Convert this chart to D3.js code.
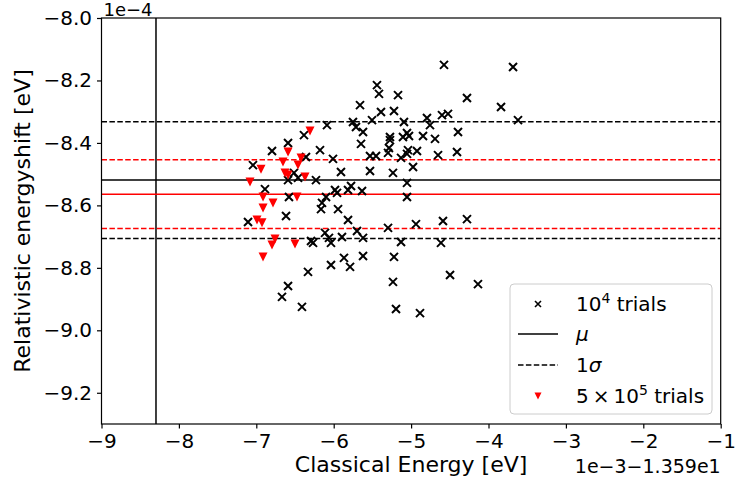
<!DOCTYPE html>
<html>
<head>
<meta charset="UTF-8">
<script src="https://d3js.org/d3.v7.min.js"></script>
<style>
  body { margin: 0; padding: 0; background: #fff; }
  svg { font-family: 'DejaVu Sans', sans-serif; }
</style>
</head>
<body>
<div id="chart"></div>
<script>
  // 10^4 trials (x: classical energy offset units 1e-3, y: shift units 1e-4)
  const trialsX = [-4.575, -3.683, -5.441, -5.415, -5.169, -4.278, -5.660, -3.838, -5.389, -5.221,
    -4.795, -4.601, -4.523, -3.619, -5.505, -5.751, -5.092, -4.756, -5.712, -6.087,
    -6.384, -5.621, -4.394, -5.273, -5.273, -5.053, -5.105, -5.027, -4.846, -4.691,
    -6.590, -5.647, -6.797, -6.177, -5.286, -5.298, -5.040, -5.053, -4.924, -4.407,
    -5.531, -5.453, -6.358, -6.009, -5.130, -4.652, -7.043, -4.975, -5.531, -5.906,
    -6.513, -5.234, -6.590, -6.461, -6.229, -5.776, -5.053, -6.888, -6.578, -6.099,
    -5.983, -5.957, -5.815, -5.634, -5.053, -6.151, -6.164, -5.944, -6.616, -7.107,
    -5.815, -4.937, -4.588, -4.278, -5.298, -6.112, -5.699, -6.293, -6.267, -6.061,
    -6.035, -5.893, -5.621, -5.130, -4.614, -5.621, -5.867, -5.789, -6.035, -5.221,
    -6.332, -4.497, -5.234, -4.136, -6.590, -6.668, -6.410, -5.195, -4.885];
  const trialsY = [-8.150, -8.157, -8.215, -8.243, -8.247, -8.256, -8.279, -8.285, -8.301, -8.298,
    -8.320, -8.311, -8.307, -8.327, -8.327, -8.333, -8.333, -8.343, -8.349, -8.343,
    -8.375, -8.365, -8.365, -8.381, -8.391, -8.368, -8.381, -8.378, -8.378, -8.387,
    -8.400, -8.403, -8.426, -8.423, -8.416, -8.432, -8.423, -8.435, -8.426, -8.429,
    -8.442, -8.442, -8.445, -8.451, -8.448, -8.439, -8.471, -8.477, -8.490, -8.493,
    -8.496, -8.496, -8.519, -8.512, -8.519, -8.538, -8.528, -8.548, -8.573, -8.573,
    -8.551, -8.560, -8.551, -8.554, -8.573, -8.592, -8.612, -8.612, -8.634, -8.653,
    -8.647, -8.660, -8.650, -8.644, -8.672, -8.688, -8.682, -8.714, -8.720, -8.704,
    -8.720, -8.701, -8.704, -8.717, -8.720, -8.762, -8.768, -8.797, -8.791, -8.765,
    -8.813, -8.823, -8.845, -8.852, -8.858, -8.893, -8.925, -8.932, -8.945];

  // 5x10^5 trials
  const bigX = [-6.306, -6.590, -6.655, -6.422, -6.461, -6.939, -6.629, -6.590, -6.371, -7.081,
    -6.913, -6.474, -6.784, -6.913, -6.991, -6.926, -6.758, -6.797, -6.500, -6.913];
  const bigY = [-8.362, -8.429, -8.461, -8.448, -8.471, -8.484, -8.496, -8.503, -8.509, -8.525,
    -8.573, -8.573, -8.592, -8.608, -8.647, -8.656, -8.708, -8.727, -8.724, -8.765];

  const muSmall = -8.519, sigmaSmall = 0.187;
  const muBig = -8.564, sigmaBig = 0.110;
  const classicalRef = -8.296;

  const xTicks = [-9, -8, -7, -6, -5, -4, -3, -2, -1];
  const yTicks = [-8.0, -8.2, -8.4, -8.6, -8.8, -9.0, -9.2];

  const width = 736, height = 486;
  const margin = {top: 18, right: 15.3, bottom: 62, left: 101.5};

  const svg = d3.select("#chart").append("svg")
    .attr("width", width)
    .attr("height", height);

  const x = d3.scaleLinear().domain([-9, -1]).range([margin.left, width - margin.right]);
  const y = d3.scaleLinear().domain([-9.3, -8.0]).range([height - margin.bottom, margin.top]);

  svg.append("clipPath").attr("id", "plotclip")
    .append("rect")
    .attr("x", margin.left).attr("y", margin.top)
    .attr("width", x.range()[1] - x.range()[0])
    .attr("height", y.range()[0] - y.range()[1]);

  const plot = svg.append("g").attr("clip-path", "url(#plotclip)");

  // reference lines
  const hlines = [
    {v: muSmall, color: "#000", dash: null},
    {v: muSmall + sigmaSmall, color: "#000", dash: "5.5,2.4"},
    {v: muSmall - sigmaSmall, color: "#000", dash: "5.5,2.4"},
    {v: muBig, color: "#ff0000", dash: null},
    {v: muBig + sigmaBig, color: "#ff0000", dash: "5.5,2.4"},
    {v: muBig - sigmaBig, color: "#ff0000", dash: "5.5,2.4"}
  ];

  plot.append("line")
    .attr("x1", x(classicalRef)).attr("x2", x(classicalRef))
    .attr("y1", y.range()[0]).attr("y2", y.range()[1])
    .attr("stroke", "#000").attr("stroke-width", 1.5);

  plot.selectAll(".hline").data(hlines).enter().append("line")
    .attr("x1", x.range()[0]).attr("x2", x.range()[1])
    .attr("y1", d => y(d.v)).attr("y2", d => y(d.v))
    .attr("stroke", d => d.color)
    .attr("stroke-width", 1.5)
    .attr("stroke-dasharray", d => d.dash);

  // 10^4 trial markers
  const cross = "M-4,-4L4,4M-4,4L4,-4";
  plot.selectAll(".small").data(d3.range(trialsX.length)).enter().append("path")
    .attr("d", cross)
    .attr("transform", i => `translate(${x(trialsX[i])},${y(trialsY[i])})`)
    .attr("stroke", "#000").attr("stroke-width", 2).attr("fill", "none");

  // 5x10^5 trial markers
  const tri = "M-4.5,-4.5L4.5,-4.5L0,4.5Z";
  plot.selectAll(".big").data(d3.range(bigX.length)).enter().append("path")
    .attr("d", tri)
    .attr("transform", i => `translate(${x(bigX[i])},${y(bigY[i])})`)
    .attr("fill", "#ff0000");

  // axes
  const xAxis = svg.append("g")
    .attr("transform", `translate(0,${y.range()[0]})`)
    .call(d3.axisBottom(x).tickValues(xTicks).tickFormat(d3.format("d")).tickSize(4.5).tickPadding(5));
  const yAxis = svg.append("g")
    .attr("transform", `translate(${margin.left},0)`)
    .call(d3.axisLeft(y).tickValues(yTicks).tickFormat(d3.format(".1f")).tickSize(4.5).tickPadding(5));

  [xAxis, yAxis].forEach(a => {
    a.select(".domain").remove();
    a.selectAll("text").attr("font-size", 20).attr("font-family", "'DejaVu Sans', sans-serif").attr("fill", "#000");
    a.selectAll("line").attr("stroke", "#000").attr("stroke-width", 1.2);
  });

  svg.append("rect")
    .attr("x", margin.left).attr("y", margin.top)
    .attr("width", x.range()[1] - x.range()[0])
    .attr("height", y.range()[0] - y.range()[1])
    .attr("fill", "none").attr("stroke", "#000").attr("stroke-width", 1.2);

  // axis labels and offsets
  svg.append("text")
    .attr("x", (x.range()[0] + x.range()[1]) / 2).attr("y", 472)
    .attr("text-anchor", "middle").attr("font-size", 22)
    .text("Classical Energy [eV]");

  svg.append("text")
    .attr("transform", `translate(30,${(y.range()[0] + y.range()[1]) / 2}) rotate(-90)`)
    .attr("text-anchor", "middle").attr("font-size", 22)
    .text("Relativistic energyshift [eV]");

  svg.append("text")
    .attr("x", x.range()[1]).attr("y", 473)
    .attr("text-anchor", "end").attr("font-size", 19)
    .text("1e\u22123\u22121.359e1");

  svg.append("text")
    .attr("x", margin.left + 2).attr("y", 16)
    .attr("font-size", 18)
    .text("1e\u22124");

  // legend
  const lg = svg.append("g");
  lg.append("rect")
    .attr("x", 510).attr("y", 284).attr("width", 202).attr("height", 130)
    .attr("rx", 4).attr("fill", "#fff").attr("fill-opacity", 0.8)
    .attr("stroke", "#cccccc").attr("stroke-width", 1);

  const rows = [304, 334, 365, 396];
  lg.append("path").attr("d", "M-3,-3L3,3M-3,3L3,-3")
    .attr("transform", `translate(538,${rows[0]})`)
    .attr("stroke", "#000").attr("stroke-width", 1.6);
  lg.append("line").attr("x1", 518).attr("x2", 558).attr("y1", rows[1]).attr("y2", rows[1])
    .attr("stroke", "#000").attr("stroke-width", 1.5);
  lg.append("line").attr("x1", 518).attr("x2", 558).attr("y1", rows[2]).attr("y2", rows[2])
    .attr("stroke", "#000").attr("stroke-width", 1.5).attr("stroke-dasharray", "5.5,2.4");
  lg.append("path").attr("d", "M-3.5,-3.5L3.5,-3.5L0,3.5Z")
    .attr("transform", `translate(538,${rows[3]})`)
    .attr("fill", "#ff0000");

  const t0 = lg.append("text").attr("x", 576).attr("y", rows[0] + 7).attr("font-size", 20);
  t0.append("tspan").text("10");
  t0.append("tspan").attr("dy", -8).attr("font-size", 14).text("4");
  t0.append("tspan").attr("dy", 8).text(" trials");

  lg.append("text").attr("x", 576).attr("y", rows[1] + 7).attr("font-size", 20)
    .attr("font-style", "italic").text("\u03bc");

  const t2 = lg.append("text").attr("x", 576).attr("y", rows[2] + 7).attr("font-size", 20);
  t2.append("tspan").text("1");
  t2.append("tspan").attr("font-style", "italic").text("\u03c3");

  const t3 = lg.append("text").attr("x", 576).attr("y", rows[3] + 7).attr("font-size", 20);
  t3.append("tspan").text("5\u2009\u00d7\u200910");
  t3.append("tspan").attr("dy", -8).attr("font-size", 14).text("5");
  t3.append("tspan").attr("dy", 8).text(" trials");
</script>
</body>
</html>
